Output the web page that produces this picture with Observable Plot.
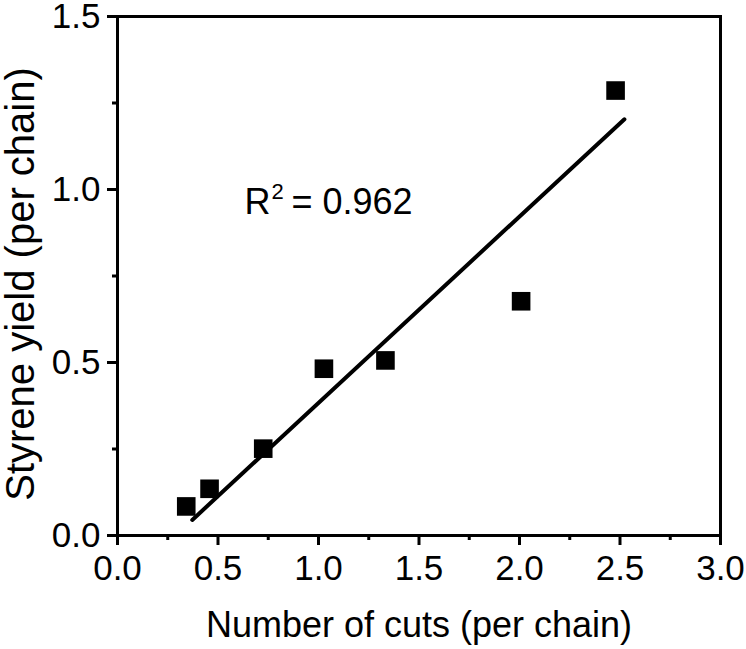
<!DOCTYPE html>
<html>
<head>
<meta charset="utf-8">
<script src="https://cdn.jsdelivr.net/npm/d3@7"></script>
<script src="https://cdn.jsdelivr.net/npm/@observablehq/plot@0.6"></script>
<style>
  html, body { margin: 0; padding: 0; background: #fff; }
</style>
</head>
<body>
<div id="chart"></div>
<script>
// Data
const cuts = [0.342, 0.458, 0.725, 1.027, 1.333, 2.008, 2.478];
const styreneYield = [0.084, 0.135, 0.251, 0.482, 0.506, 0.677, 1.286];
const fitX = [0.372, 2.522];
const fitY = [0.045, 1.203];
const xTicks = [0, 0.5, 1.0, 1.5, 2.0, 2.5, 3.0];
const xMinor = [0.25, 0.75, 1.25, 1.75, 2.25, 2.75];
const yTicks = [0, 0.5, 1.0, 1.5];
const yMinor = [0.25, 0.75, 1.25];
const annotX = [0.632];
const annotY = [0.962];
const annotBase = ["R"];
const annotSup = ["2"];
const annotRest = ["= 0.962"];
const xLabel = "Number of cuts (per chain)";
const yLabel = "Styrene yield (per chain)";

const points = cuts.map((x, i) => ({x, y: styreneYield[i]}));
const fit = fitX.map((x, i) => ({x, y: fitY[i]}));
const annot = annotX.map((x, i) => ({x, y: annotY[i], base: annotBase[i], sup: annotSup[i], rest: annotRest[i]}));

const font = "Liberation Sans, Arial, Helvetica, sans-serif";

const chart = Plot.plot({
  width: 746,
  height: 649,
  marginLeft: 117,
  marginRight: 26,
  marginTop: 16,
  marginBottom: 114,
  style: {fontFamily: font, fontSize: "35px", color: "#000", background: "#fff", overflow: "visible"},
  x: {domain: [0, 3]},
  y: {domain: [0, 1.5]},
  marks: [
    Plot.frame({stroke: "#000", strokeWidth: 3}),
    Plot.axisX({ticks: xTicks, tickSize: 10, tickPadding: 10, tickFormat: d3.format(".1f"), strokeWidth: 3, fontSize: 35, label: null}),
    Plot.axisX({ticks: xMinor, tickSize: 5, tickFormat: null, text: null, strokeWidth: 3, label: null}),
    Plot.axisY({ticks: yTicks, tickSize: 10, tickPadding: 7, tickFormat: d3.format(".1f"), strokeWidth: 3, fontSize: 35, label: null}),
    Plot.axisY({ticks: yMinor, tickSize: 5, tickFormat: null, text: null, strokeWidth: 3, label: null}),
    Plot.line(fit, {x: "x", y: "y", stroke: "#000", strokeWidth: 4}),
    Plot.dot(points, {x: "x", y: "y", symbol: "square", r: 10.5, fill: "#000", stroke: "none"}),
    Plot.text(annot, {x: "x", y: "y", text: "base", textAnchor: "start", fontSize: 36, fill: "#000"}),
    Plot.text(annot, {x: "x", y: "y", text: "sup", textAnchor: "start", dx: 27, dy: -11, fontSize: 22, fill: "#000"}),
    Plot.text(annot, {x: "x", y: "y", text: "rest", textAnchor: "start", dx: 47, fontSize: 36, fill: "#000"}),
    Plot.text([xLabel], {frameAnchor: "bottom", dy: 101, text: d => d, fontSize: 36, fill: "#000"}),
    Plot.text([yLabel], {frameAnchor: "left", textAnchor: "middle", dx: -96, dy: 8, rotate: -90, text: d => d, fontSize: 40, fill: "#000"})
  ]
});
document.getElementById("chart").appendChild(chart);
</script>
</body>
</html>
